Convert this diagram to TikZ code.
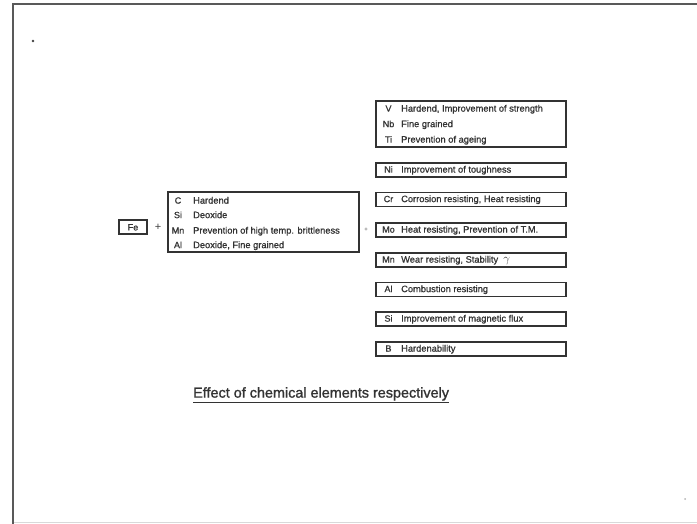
\documentclass[tikz,border=0pt]{standalone}
\usepackage{fontspec}
\setmainfont{Liberation Sans}
\newfontfamily\heavyfont[FakeBold=0.9]{Liberation Sans}
\newfontfamily\titlefont[FakeBold=1.3]{Liberation Sans}
\begin{document}
\begin{tikzpicture}[x=1bp,y=-1bp,
  box/.style={draw=black!80, line width=1.4bp, inner sep=0, outer sep=0, anchor=north west},
  sym/.style={font=\heavyfont\fontsize{9bp}{10bp}\selectfont, text=black!80, anchor=mid, inner sep=0},
  desc/.style={font=\heavyfont\fontsize{9.3bp}{10bp}\selectfont, text=black!80, anchor=mid west, inner sep=0},
  plus/.style={font=\fontsize{11bp}{12bp}\selectfont, text=black!75, inner sep=0},
  frameline/.style={draw=black!65, line width=1.7bp},
  title/.style={font=\titlefont\fontsize{14.4bp}{16bp}\selectfont, text=black!80, inner sep=0, anchor=mid west}]
\useasboundingbox (0,0) rectangle (697,524);
% frame
\coordinate (ftl) at (13,4);
\coordinate (ftr) at (697,4);
\coordinate (fbl) at (13,524);
\draw[frameline] (fbl) -- (ftl) -- (ftr);
\coordinate (bl) at (14,522.5);
\coordinate (br) at (697,522.5);
\draw[black!15, line width=1bp] (bl) -- (br);
\fill[black!75] (33,41) circle (1.3);
\fill[black!30] (685,499) circle (1);
% Fe
\node[box, minimum width=28bp, minimum height=14bp] (fe) at (119,220) {};
\node[sym] (fet) at (133,227.8) {Fe};
\node[plus] (p1) at (158,227) {+};
% left group
\node[box, minimum width=191bp, minimum height=60bp] (lg) at (168,192) {};
\node[sym] (c) at (178,201) {C};
\node[desc] (cd) at (193,201) {Hardend};
\node[sym] (si) at (178,215.5) {Si};
\node[desc] (sid) at (193,215.5) {Deoxide};
\node[sym] (mn) at (178,231) {Mn};
\node[desc] (mnd) at (193,231) {Prevention of high temp. brittleness};
\node[sym] (al) at (178,245.5) {Al};
\node[desc] (ald) at (193,245.5) {Deoxide, Fine grained};
\node[font=\fontsize{6bp}{7bp}\selectfont, text=black!70, inner sep=0] (p2) at (366,229.5) {+};
% right boxes
\node[box, minimum width=190bp, minimum height=46bp] (r1) at (376,101) {};
\node[sym] (v) at (388.5,109) {V};
\node[desc] (vd) at (401,109) {Hardend, Improvement of strength};
\node[sym] (nb) at (388.5,124.5) {Nb};
\node[desc] (nbd) at (401,124.5) {Fine grained};
\node[sym] (ti) at (388.5,140) {Ti};
\node[desc] (tid) at (401,140) {Prevention of ageing};
\foreach \n/\y/\s/\d in {ni/163/Ni/Improvement of toughness,
  cr/192.5/Cr/{Corrosion resisting, Heat resisting},
  mo/223/Mo/{Heat resisting, Prevention of T.M.},
  mn2/253/Mn/{Wear resisting, Stability \ {\fontsize{12.5bp}{12bp}\selectfont$\gamma$}},
  al2/282.5/Al/Combustion resisting,
  si2/312/Si/Improvement of magnetic flux,
  b/342/B/Hardenability}{
  \node[box, minimum width=190bp, minimum height=14bp] (\n) at (376,\y) {};
  \node[sym] (\n s) at (388.5,\y+7) {\s};
  \node[desc] (\n d) at (401,\y+7) {\d};
}
% title
\node[title] (t) at (193,395) {\underline{Effect of chemical elements respectively}};
\end{tikzpicture}
\end{document}
